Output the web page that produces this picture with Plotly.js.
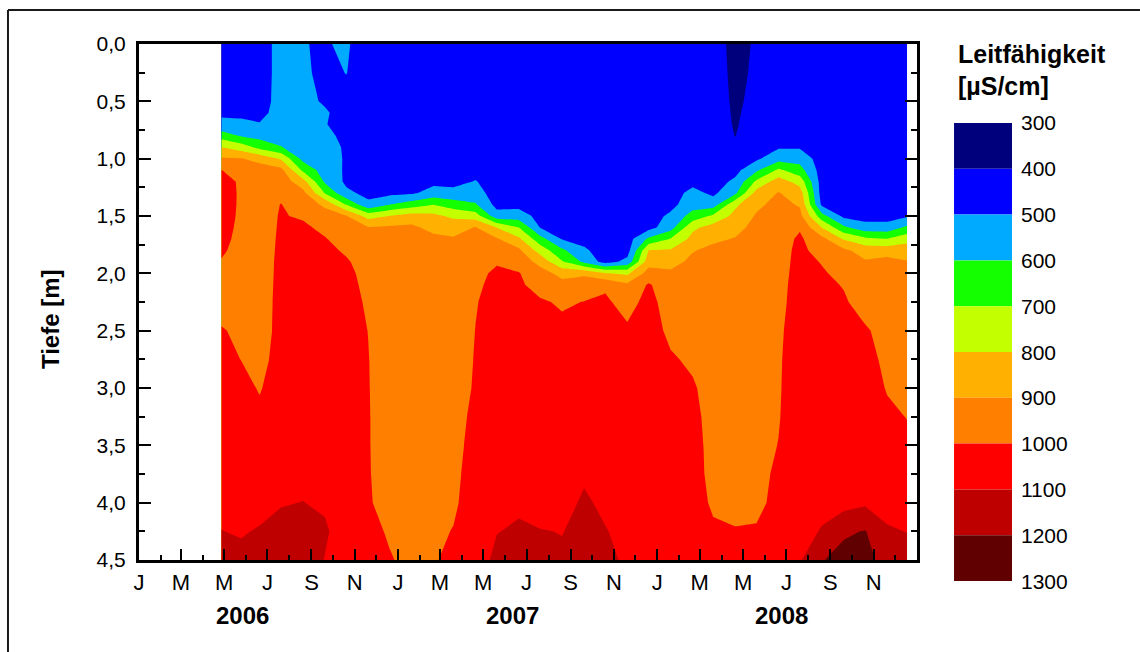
<!DOCTYPE html>
<html>
<head>
<meta charset="utf-8">
<script src="https://cdn.plot.ly/plotly-3.0.1.min.js"></script>
<style>
  html, body { margin: 0; padding: 0; background: #ffffff; }
  #chart { width: 1140px; height: 652px; }
</style>
</head>
<body>
<div id="chart"></div>
<script>
// ---------------- DATA ----------------
// Sampling dates (one conductivity profile per date)
const dates2006 = ['2006-04-27','2006-05-25','2006-06-20','2006-07-20','2006-08-20','2006-09-20','2006-10-20','2006-11-20','2006-12-20'];
const dates2007 = ['2007-01-20','2007-02-20','2007-03-20','2007-04-20','2007-05-20','2007-06-20','2007-07-20','2007-08-20','2007-09-20','2007-10-20','2007-11-20','2007-12-20'];
const dates2008 = ['2008-01-20','2008-02-20','2008-03-20','2008-04-20','2008-05-20','2008-06-20','2008-07-20','2008-08-20','2008-09-20','2008-10-20','2008-11-20','2008-12-18'];

// Depths (m) of the profile values
const depths = [0, 0.25, 0.5, 0.6, 0.7, 0.8, 0.9, 1.0, 1.1, 1.2, 1.3, 1.4, 1.5, 1.6, 1.7, 1.8, 1.9, 2.0, 2.1, 2.25, 2.5, 2.75, 3.0, 3.25, 3.5, 3.75, 4.0, 4.25, 4.5];

// Conductivity profiles (µS/cm), one array per sampling date, top to bottom
const profiles2006 = [
  [470,470,475,490,515,655,800,910,1002,1040,1040,1038,1030,1020,1012,1005,998,992,990,990,1002,1020,1040,1050,1060,1070,1085,1101,1130],
  [465,465,470,480,520,590,750,905,960,985,988,988,988,988,988,988,990,990,990,992,995,999,1020,1040,1055,1065,1080,1095,1115],
  [460,460,465,475,505,565,670,870,945,955,960,964,967,968,970,970,971,971,972,972,972,980,995,1015,1035,1055,1080,1105,1125],
  [530,530,530,535,540,555,605,790,930,960,985,1002,1006,1008,1010,1012,1014,1015,1016,1018,1020,1025,1035,1045,1055,1070,1097,1115,1130],
  [502,515,525,525,530,535,545,570,680,840,930,960,990,1015,1025,1030,1035,1040,1044,1050,1055,1060,1065,1070,1075,1085,1101,1120,1135],
  [495,478,490,510,505,515,525,535,550,585,695,880,945,980,1005,1020,1030,1035,1039,1045,1050,1055,1060,1065,1070,1080,1092,1108,1098],
  [510,502,475,465,462,485,492,492,488,482,520,695,905,940,965,990,1008,1015,1019,1025,1030,1035,1040,1045,1048,1052,1060,1070,1080],
  [455,455,455,455,455,455,455,455,458,460,475,520,760,905,935,955,968,980,985,991,999,1002,1003,1004,1004,1005,1008,1040,1050],
  [455,455,455,455,455,455,455,455,455,455,475,598,802,915,940,950,955,958,959,960,960,960,962,963,965,967,970,985,1010]
];
const profiles2007 = [
  [455,455,455,455,455,455,455,455,455,455,485,650,840,920,940,950,955,958,959,960,960,960,960,960,960,960,960,962,965],
  [455,455,455,455,455,455,455,455,455,475,540,698,825,870,925,945,950,955,957,958,960,960,960,962,963,964,965,975,990],
  [455,455,455,455,455,455,455,455,455,470,530,650,780,860,910,935,945,950,952,955,955,955,955,960,965,970,980,1005,1030],
  [455,455,455,455,455,455,455,455,470,505,540,610,750,905,945,960,970,985,990,996,1001,1005,1010,1025,1038,1055,1064,1075,1070],
  [455,455,455,455,455,455,455,455,455,455,455,470,540,798,910,950,995,1010,1016,1025,1035,1045,1050,1055,1060,1065,1075,1098,1115],
  [455,455,455,455,455,455,455,455,455,455,455,470,545,702,820,920,960,1005,1013,1025,1040,1050,1055,1060,1065,1070,1090,1108,1120],
  [455,455,455,455,455,455,455,455,455,455,455,455,470,498,640,760,870,940,970,1010,1030,1040,1045,1050,1055,1060,1070,1103,1115],
  [455,455,455,455,455,455,455,455,455,455,455,455,455,465,495,620,710,870,930,990,1020,1030,1040,1045,1050,1055,1065,1098,1110],
  [455,455,455,455,455,455,455,455,455,455,455,455,455,455,470,515,580,880,960,1002,1020,1035,1045,1050,1055,1085,1115,1118,1120],
  [455,455,455,455,455,455,455,455,455,455,455,455,455,455,455,455,460,805,985,1015,1030,1040,1045,1050,1055,1060,1080,1105,1115],
  [455,455,455,455,455,455,455,455,455,455,455,455,455,455,455,460,530,780,920,965,1015,1030,1035,1040,1045,1050,1060,1070,1090],
  [455,455,455,455,455,455,455,455,455,455,455,455,455,465,620,802,860,940,1010,1030,1040,1045,1050,1052,1055,1057,1060,1065,1070]
];
const profiles2008 = [
  [455,455,455,455,455,455,455,455,455,455,455,470,520,560,705,810,870,915,940,955,980,1010,1025,1035,1040,1045,1050,1060,1070],
  [455,455,455,455,455,455,455,455,455,470,530,560,640,780,830,895,920,935,945,955,965,985,1010,1025,1035,1040,1045,1055,1065],
  [455,455,455,455,455,455,455,455,455,455,480,550,720,840,885,920,935,945,950,955,960,962,964,966,968,970,985,1015,1030],
  [360,370,380,385,390,398,420,440,470,520,580,780,830,870,905,925,935,940,942,945,948,950,952,954,956,958,962,1008,1030],
  [415,420,430,440,450,460,470,485,585,720,840,880,910,930,940,945,950,955,957,960,962,965,967,970,972,975,975,1010,1030],
  [450,450,455,460,465,475,490,560,720,850,905,930,945,955,958,960,962,965,970,975,985,990,992,995,1002,1015,1030,1045,1055],
  [450,450,455,460,465,475,490,560,640,760,850,890,930,990,1015,1025,1030,1035,1038,1040,1045,1048,1050,1052,1055,1057,1060,1075,1090],
  [455,455,455,455,455,455,455,455,455,455,455,480,640,798,930,960,995,1010,1020,1030,1040,1050,1055,1060,1065,1070,1080,1105,1195],
  [455,455,455,455,455,455,455,455,455,455,455,455,475,620,790,920,950,975,995,1010,1025,1035,1040,1045,1050,1055,1065,1185,1235],
  [455,455,455,455,455,455,455,455,455,455,455,455,460,540,720,860,910,930,945,965,1010,1030,1040,1045,1050,1060,1085,1205,1250],
  [455,455,455,455,455,455,455,455,455,455,455,455,460,540,702,860,930,950,960,965,970,980,995,1015,1030,1045,1070,1110,1140],
  [455,455,455,455,455,455,455,455,455,455,455,465,490,620,760,860,905,935,945,955,965,975,985,998,1015,1030,1050,1098,1130]
];

// Contour levels and their colours (300 ... 1300 µS/cm)
const levels = [300, 400, 500, 600, 700, 800, 900, 1000, 1100, 1200, 1300];
const bandColors = ['#00007c', '#0000ff', '#00aaff', '#14ff00', '#c4ff00', '#ffb000', '#ff8000', '#ff0000', '#bf0000', '#600000'];

// Axis labels
const years = ['2006', '2007', '2008'];
const monthLetters = ['J', 'M', 'M', 'J', 'S', 'N'];
const majorMonths = ['01', '03', '05', '07', '09', '11'];
const minorMonths = ['02', '04', '06', '08', '10', '12'];
const yearLabelDates = ['2006-05-27', '2007-06-11', '2008-06-24'];
const depthTicks = [0, 0.5, 1.0, 1.5, 2.0, 2.5, 3.0, 3.5, 4.0, 4.5];
const depthTickText = ['0,0', '0,5', '1,0', '1,5', '2,0', '2,5', '3,0', '3,5', '4,0', '4,5'];
const depthMinor = [0.25, 0.75, 1.25, 1.75, 2.25, 2.75, 3.25, 3.75, 4.25];

// ---------------- BUILD ----------------
const dates = dates2006.concat(dates2007, dates2008);
const profiles = profiles2006.concat(profiles2007, profiles2008);
if (profiles.length !== dates.length) throw new Error('profiles ' + profiles.length + ' vs dates ' + dates.length);
profiles.forEach(function (p, i) {
  if (p.length !== depths.length) throw new Error('profile ' + i + ' (' + dates[i] + ') has ' + p.length + ' values');
});

const nb = bandColors.length;
const colorscale = [];
bandColors.forEach(function (c, i) {
  colorscale.push([i / nb, c]);
  colorscale.push([(i + 1) / nb, c]);
});

const majorVals = [], majorText = [], minorVals = [];
years.forEach(function (y) {
  majorMonths.forEach(function (m, k) { majorVals.push(y + '-' + m + '-01'); majorText.push(monthLetters[k]); });
  minorMonths.forEach(function (m) { minorVals.push(y + '-' + m + '-01'); });
});

const FONT = 'Liberation Sans, Arial, Helvetica, sans-serif';

const trace = {
  type: 'contour',
  x: dates,
  y: depths,
  z: profiles,
  transpose: true,
  zauto: false,
  zmin: levels[0],
  zmax: levels[levels.length - 1],
  autocontour: false,
  contours: { start: levels[0], end: levels[levels.length - 1], size: levels[1] - levels[0], coloring: 'fill', showlines: false },
  line: { width: 0, smoothing: 0 },
  colorscale: colorscale,
  showscale: false,
  hoverinfo: 'skip'
};

// Legend bar (300 at the top, 1300 at the bottom), built from levels/bandColors
const barX0 = 1.0476, barX1 = 1.1221, barTop = 0.8469, barBottom = -0.0407;
const step = (barTop - barBottom) / (levels.length - 1);
const shapes = [];
const annotations = [];
bandColors.forEach(function (c, i) {
  shapes.push({
    type: 'rect', xref: 'paper', yref: 'paper',
    x0: barX0, x1: barX1, y0: barTop - (i + 1) * step, y1: barTop - i * step,
    fillcolor: c, line: { width: 0 }, layer: 'above'
  });
});
levels.forEach(function (L, i) {
  annotations.push({
    text: String(L), x: 1.1305, xref: 'paper', y: barTop - i * step, yref: 'paper',
    xanchor: 'left', yanchor: 'middle', showarrow: false,
    font: { family: FONT, size: 21, color: '#000' }
  });
});

years.forEach(function (y, i) {
  annotations.push({
    text: y, x: yearLabelDates[i], xref: 'x', y: -0.107, yref: 'paper',
    xanchor: 'center', yanchor: 'middle', showarrow: false,
    font: { family: FONT, size: 24, color: '#000', weight: 700 }
  });
});
annotations.push({
  text: 'Tiefe [m]', textangle: -90, x: -0.1144, xref: 'paper', y: 0.467, yref: 'paper',
  xanchor: 'center', yanchor: 'middle', showarrow: false,
  font: { family: FONT, size: 24, color: '#000', weight: 700 }
});
annotations.push({
  text: 'Leitfähigkeit', x: 1.0500, xref: 'paper', y: 0.9806, yref: 'paper',
  xanchor: 'left', yanchor: 'middle', showarrow: false,
  font: { family: FONT, size: 25, color: '#000', weight: 700 }
});
annotations.push({
  text: '[µS/cm]', x: 1.0500, xref: 'paper', y: 0.9186, yref: 'paper',
  xanchor: 'left', yanchor: 'middle', showarrow: false,
  font: { family: FONT, size: 25, color: '#000', weight: 700 }
});

// outer frame lines
shapes.push({ type: 'line', xref: 'paper', yref: 'paper', x0: -0.1684, x1: 1.2866, y0: 1.0659, y1: 1.0659, line: { color: '#1a1a1a', width: 2 } });
shapes.push({ type: 'line', xref: 'paper', yref: 'paper', x0: -0.1684, x1: -0.1684, y0: 1.0659, y1: -0.2, line: { color: '#1a1a1a', width: 2 } });

const layout = {
  width: 1140, height: 652,
  margin: { l: 139, r: 223, t: 44, b: 92, pad: 0 },
  paper_bgcolor: '#ffffff', plot_bgcolor: '#ffffff',
  font: { family: FONT, size: 21, color: '#000' },
  showlegend: false,
  xaxis: {
    type: 'date', range: ['2006-01-01', '2009-01-01'],
    tickmode: 'array', tickvals: majorVals, ticktext: majorText,
    ticks: 'inside', ticklen: 11, tickwidth: 2, tickcolor: '#000',
    ticklabelstandoff: 1,
    tickfont: { family: FONT, size: 22, color: '#000' },
    showline: true, linewidth: 3, linecolor: '#000', mirror: true,
    showgrid: false, zeroline: false,
    minor: { tickmode: 'array', tickvals: minorVals, ticks: 'inside', ticklen: 5, tickwidth: 2, tickcolor: '#000', showgrid: false }
  },
  yaxis: {
    range: [4.5, 0],
    tickmode: 'array', tickvals: depthTicks, ticktext: depthTickText,
    ticks: 'inside', ticklen: 12, tickwidth: 2, tickcolor: '#000',
    ticklabelstandoff: 6,
    tickfont: { family: FONT, size: 21, color: '#000' },
    showline: true, linewidth: 3, linecolor: '#000', mirror: 'ticks',
    showgrid: false, zeroline: false,
    minor: { tickmode: 'array', tickvals: depthMinor, ticks: 'inside', ticklen: 6, tickwidth: 2, tickcolor: '#000', showgrid: false }
  },
  annotations: annotations,
  shapes: shapes
};

Plotly.newPlot('chart', [trace], layout, { displayModeBar: false, staticPlot: true });
</script>
</body>
</html>
